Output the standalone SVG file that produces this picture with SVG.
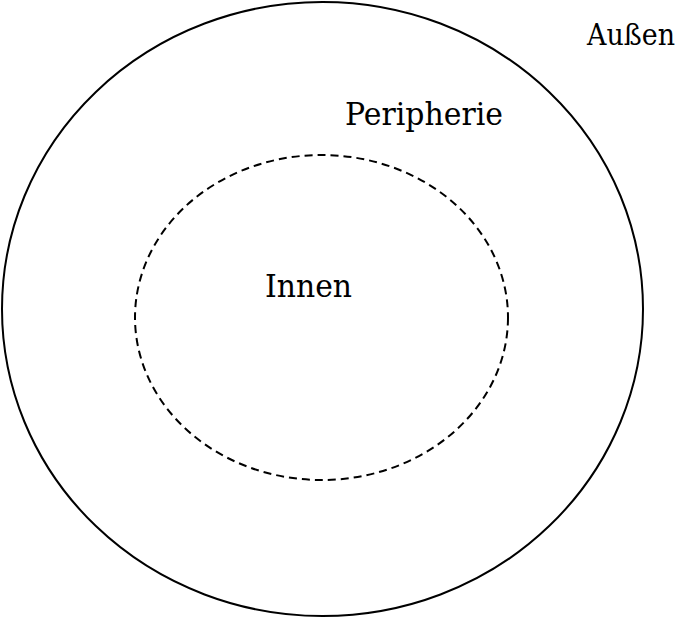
<svg xmlns="http://www.w3.org/2000/svg" width="685" height="618" viewBox="0 0 685 618">
<style>
.lbl{font-family:"DejaVu Serif","Liberation Serif",serif;font-size:32px;fill:#000}
.ring{fill:none;stroke:#000;stroke-width:2}
</style>
<rect width="685" height="618" fill="#fff"/>
<g id="outer">
<ellipse class="ring" cx="322.5" cy="309" rx="320.5" ry="307"/>
</g>
<g id="inner">
<ellipse class="ring" cx="321.5" cy="317.5" rx="186.5" ry="162.5" stroke-width="2.4" stroke-dasharray="8 5"/>
</g>
<g id="labels">
<text class="lbl" x="587" y="45" style="font-size:29px" textLength="88" lengthAdjust="spacingAndGlyphs">Außen</text>
<text class="lbl" x="345" y="125" textLength="158" lengthAdjust="spacingAndGlyphs">Peripherie</text>
<text class="lbl" x="265" y="297" textLength="87" lengthAdjust="spacingAndGlyphs">Innen</text>
</g>
<g id="connectors"></g>
</svg>
